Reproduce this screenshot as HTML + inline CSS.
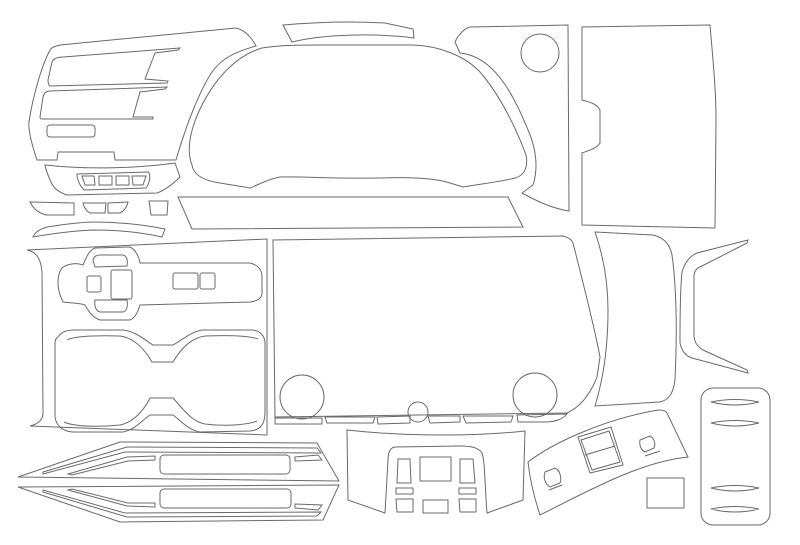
<!DOCTYPE html>
<html><head><meta charset="utf-8"><style>html,body{margin:0;padding:0;background:#fff;}svg{display:block}</style></head>
<body>
<svg width="800" height="545" viewBox="0 0 800 545" xmlns="http://www.w3.org/2000/svg" fill="none" stroke="#6a6a6a" stroke-width="1">
<path d="M50,50 C52,47 56,46 60,45 L236,28 C245,30 252,38 256,46 C235,52 222,58 212,72 C200,90 186,125 176,160 L115,160 L114,152 L58,152 L57,160 L37,160 C32,145 28,130 29,122 C33,95 42,65 50,50 Z"/>
<path d="M48,80 L52,62 C54,58 58,57 63,57 L180,48 L178,50 L155,53 L145,79 L168,81 L167,83 L50,86 C48,85 48,82 48,80 Z"/>
<path d="M40,117 L43,97 C44,93 46,91 50,91 L167,87 L165,89 L140,92 L133,117 L153,117 L153,119 L42,119 C40,119 40,118 40,117 Z"/>
<rect x="47" y="125" width="48" height="12" rx="3"/>
<path d="M45,165 C90,170 140,168 175,163 L180,177 C172,185 165,190 157,193 L67,195 C58,192 54,188 52,184 C48,176 46,170 45,165 Z"/>
<path d="M77,174 L148,172 C151,174 150,183 146,188 L84,190 C80,186 77,180 77,174 Z"/>
<path d="M82,176 L94,176 L95,185 L85,185 Z M99,176 L112,176 L112,185 L99,185 Z M116,176 L129,176 L129,185 L116,185 Z M132,176 L146,176 L143,185 L133,185 Z"/>
<path d="M30,202 L74,203 L74,215 L46,215 C38,213 33,208 30,202 Z"/>
<path d="M83,203 L106,203 L105,213 L90,213 C86,211 84,207 83,203 Z"/>
<path d="M108,203 L128,202 C127,207 124,211 120,213 L108,213 Z"/>
<path d="M149,201 L168,201 L167,215 L151,215 Z"/>
<path d="M33,237 C35,232 40,229 47,227 C70,223 90,222 93,222 C120,222 145,225 165,229 L162,237 C140,232 115,230 93,230 C70,231 50,234 33,237 Z"/>
<path d="M283,25 C320,22 350,21 385,23 L413,29 L414,38 C375,33 325,34 292,42 Z"/>
<path d="M192,165 C186,150 190,128 203,103 C218,75 238,55 262,48 C280,45 300,45 320,45 L413,45 C440,46 465,56 480,72 C500,95 517,130 526,155 C528,165 526,175 515,178 C500,182 480,184 463,187 L450,183 C435,178 410,177 380,178 C330,179 300,176 280,177 C265,180 258,185 250,188 L220,183 C200,180 193,173 192,165 Z"/>
<path d="M460,53 L455,42 C458,35 465,28 470,27 L568,25 L569,211 C550,208 535,200 522,193 L533,185 C538,170 537,150 528,130 C518,105 505,80 490,67 C480,58 470,54 460,53 Z"/>
<circle cx="540" cy="53" r="19"/>
<path d="M178,197 L508,197 L523,227 L192,229 Z"/>
<path d="M582,27 L710,25 C713,60 716,90 716,120 L715,228 L582,225 L582,153 C590,150 597,148 600,143 L600,110 C597,104 590,102 582,100 Z"/>
<path d="M27,250 C36,252 41,258 42,272 L43,413 C43,420 38,424 30,426 L267,435 L267,239 Z"/>
<path d="M63,267 C70,263 78,263 83,265 C86,258 89,250 95,248 L130,247 C136,250 139,257 140,263 L250,263 C258,265 262,270 262,277 L262,293 C262,298 258,301 250,302 L140,305 C138,312 135,318 130,320 L100,320 C94,318 90,314 85,305 C80,303 70,303 63,302 C60,296 58,290 58,283 C58,275 60,270 63,267 Z"/>
<path d="M95,267 L93,260 C94,256 97,255 100,255 L123,255 C127,256 128,260 127,266 Z"/>
<path d="M95,300 L127,300 C128,306 127,311 123,312 L100,312 C96,311 94,306 95,300 Z"/>
<rect x="111" y="270" width="21" height="29" rx="2"/>
<rect x="87" y="276" width="14" height="16" rx="2"/>
<rect x="173" y="273" width="25" height="16" rx="2"/>
<rect x="200" y="273" width="15" height="16" rx="2"/>
<path d="M58,337 C62,331 68,330 75,330 L123,330 C135,331 145,340 153,345 L173,345 C182,340 192,331 203,330 L253,330 C260,331 265,336 265,343 L265,412 C265,425 260,430 250,431 L200,432 C188,430 180,420 173,415 L150,415 C142,420 135,430 123,432 L72,432 C62,431 56,425 55,417 L55,343 C55,340 56,338 58,337 Z"/>
<path d="M67,340 C72,337 90,335 120,336 C135,338 145,350 152,362 L173,362 C180,350 190,338 205,336 C230,335 250,336 258,339 M64,422 C75,427 100,427 120,425 C135,422 145,408 150,398 L173,398 C182,408 192,422 205,424 C230,427 250,424 257,421"/>
<path d="M18,477 L120,442 L317,443 L339,481 Z"/>
<path d="M43,472 L127,447 L317,448 L321,453 L125,452 L43,474 Z"/>
<path d="M68,474 L127,457 L155,456 L155,460 L128,461 L72,475 Z"/>
<rect x="160" y="455" width="130" height="19" rx="4"/>
<path d="M295,457 L318,455 L322,460 L295,461 Z"/>
<path d="M18,487 L339,485 L323,520 L120,522 Z"/>
<path d="M43,492 L127,517 L317,516 L321,512 L125,513 L43,490 Z"/>
<path d="M68,490 L127,506 L155,507 L155,503 L128,503 L72,489 Z"/>
<rect x="160" y="489" width="131" height="19" rx="4"/>
<path d="M295,508 L318,510 L322,505 L295,504 Z"/>
<path d="M273,240 L563,236 C568,237 572,240 573,243 C585,290 595,330 600,357 L597,377 C590,395 580,407 567,413 L275,417 Z"/>
<circle cx="302" cy="397" r="22"/>
<circle cx="535" cy="395" r="22"/>
<circle cx="418" cy="412" r="10"/>
<path d="M275,418 L322,418 L322,424 L275,424 Z M325,417 L375,417 L373,423 L327,423 Z M377,417 L410,416 L410,423 L378,424 Z M428,416 L460,416 L460,422 L430,423 Z M463,416 L513,416 L511,422 L466,423 Z M517,415 L567,414 C563,419 555,422 545,422 L518,422 Z"/>
<path d="M595,232 L653,235 C665,238 670,245 672,255 C677,290 677,340 675,380 C673,395 668,400 660,402 L595,406 C603,380 608,350 608,310 C608,280 603,255 595,232 Z"/>
<path d="M748,240 L697,253 C690,256 685,262 682,272 C680,290 680,320 680,343 C682,352 686,356 692,358 L748,373 L747,370 L703,350 C697,346 694,342 694,335 L694,275 C695,270 697,268 702,266 L747,243 Z"/>
<rect x="701" y="388" width="69" height="137" rx="12"/>
<path d="M711,402 Q735,397 759,402 Q735,408 711,402 Z M711,423 Q735,418 759,423 Q735,429 711,423 Z M711,488 Q735,483 759,488 Q735,494 711,488 Z M711,509 Q735,504 759,509 Q735,515 711,509 Z"/>
<path d="M347,430 C400,436 470,437 525,431 L523,500 L487,513 C485,490 485,460 482,453 C478,447 470,446 460,446 L395,447 C390,448 388,452 388,460 L385,513 L348,500 Z"/>
<path d="M398,459 L410,459 L411,483 L397,483 Z M396,488 L413,488 L413,494 L396,494 Z M396,499 L413,499 L413,512 L397,512 Z"/>
<rect x="420" y="457" width="31" height="24"/>
<rect x="423" y="500" width="25" height="13"/>
<path d="M460,459 L473,459 L475,483 L460,483 Z M459,488 L476,488 L476,494 L459,494 Z M459,499 L476,499 L476,512 L460,512 Z"/>
<path d="M528,462 C550,445 600,420 658,410 C664,410 666,411 667,413 L688,457 C640,462 590,490 540,515 C535,500 530,480 528,462 Z"/>
<path d="M578,437 L611,427 L623,465 L590,473 Z M581,440 L609,431 L620,462 L592,470 Z M585,455 L615,446"/>
<path d="M545,472 L555,468 C560,470 562,478 560,483 L550,487 C545,484 543,478 545,472 Z M549,490 L562,485 M640,440 L650,436 C654,438 656,444 654,448 L645,452 C641,450 639,445 640,440 Z M645,456 L660,451"/>
<rect x="647" y="478" width="37" height="30"/>
</svg>
</body></html>
